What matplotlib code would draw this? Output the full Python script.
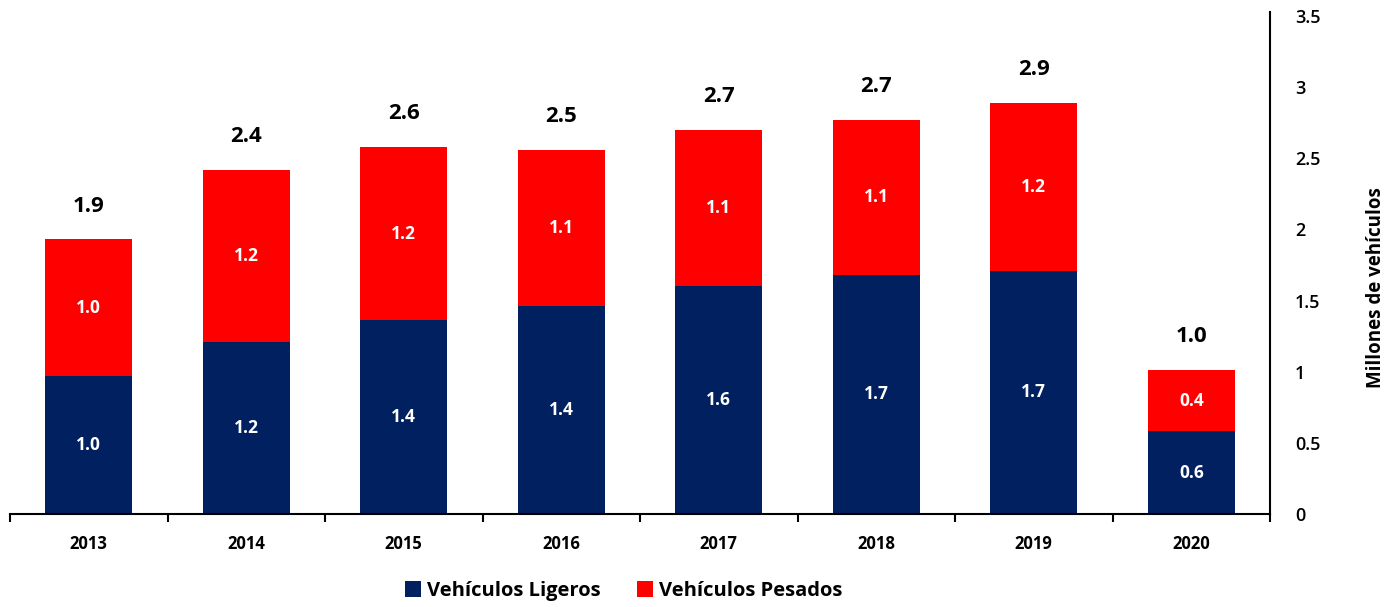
import matplotlib
matplotlib.use("Agg")
import matplotlib.pyplot as plt
import numpy as np

years = ["2013", "2014", "2015", "2016", "2017", "2018", "2019", "2020"]
ligeros = [0.97, 1.21, 1.36, 1.46, 1.60, 1.68, 1.71, 0.58]
pesados = [0.96, 1.21, 1.22, 1.10, 1.10, 1.09, 1.18, 0.43]
ligeros_lbl = ["1.0", "1.2", "1.4", "1.4", "1.6", "1.7", "1.7", "0.6"]
pesados_lbl = ["1.0", "1.2", "1.2", "1.1", "1.1", "1.1", "1.2", "0.4"]
total_lbl = ["1.9", "2.4", "2.6", "2.5", "2.7", "2.7", "2.9", "1.0"]
yticks = [0, 0.5, 1, 1.5, 2, 2.5, 3, 3.5]
ytick_lbl = ["0", "0.5", "1", "1.5", "2", "2.5", "3", "3.5"]

plt.rcParams['font.family'] = ['Open Sans', 'DejaVu Sans']

navy = "#002060"
red = "#FF0000"

fig = plt.figure(figsize=(14, 6.07), dpi=100)
ax = fig.add_axes([10/1400, 93/607, 1260/1400, (514-16)/607])

x = np.arange(len(years))
w = 0.55
lig = np.array(ligeros)
pes = np.array(pesados)
ax.bar(x, lig, w, color=navy, label="Vehículos Ligeros", zorder=2)
ax.bar(x, pes, w, bottom=lig, color=red, label="Vehículos Pesados", zorder=2)

for i in range(len(years)):
    ax.text(x[i], lig[i]/2, ligeros_lbl[i], ha="center", va="center",
            color="white", fontsize=12.5, fontweight="bold")
    ax.text(x[i], lig[i] + pes[i]/2, pesados_lbl[i], ha="center", va="center",
            color="white", fontsize=12.5, fontweight="bold")
    ax.annotate(total_lbl[i], (x[i], lig[i] + pes[i]), xytext=(0, 24),
                textcoords="offset points", ha="center", va="center",
                fontsize=16, fontweight="bold", color="black")

ax.set_xlim(-0.5, len(years) - 0.5)
ax.set_ylim(0, 3.5)

ax.spines["top"].set_visible(False)
ax.spines["left"].set_visible(False)
ax.spines["right"].set_linewidth(1.5)
ax.spines["bottom"].set_linewidth(1.5)
ax.spines["right"].set_bounds(0, 3.53)

ax.yaxis.tick_right()
ax.yaxis.set_label_position("right")
ax.set_yticks(yticks)
ax.set_yticklabels(ytick_lbl, fontsize=13, fontweight="semibold")
ax.tick_params(axis="y", length=0, pad=18)
ax.set_ylabel("Millones de vehículos", fontsize=13.5, fontweight="bold")
ax.yaxis.set_label_coords(1.076, 0.455)

ax.set_xticks(np.arange(-0.5, len(years), 1.0))
ax.set_xticklabels([])
ax.set_xticks(x, minor=True)
ax.set_xticklabels(years, minor=True, fontsize=12, fontweight="bold")
ax.tick_params(axis="x", which="major", direction="out", length=6, width=1.5)
ax.tick_params(axis="x", which="minor", length=0, pad=15)

leg = fig.legend(loc="center", bbox_to_anchor=(624/1400, 1 - 591/607), ncol=2,
                 frameon=False, fontsize=14.5, handlelength=0.8, handleheight=0.8,
                 handletextpad=0.3, columnspacing=1.8)
for t in leg.get_texts():
    t.set_fontweight("bold")

fig.savefig("out.png", dpi=100)
